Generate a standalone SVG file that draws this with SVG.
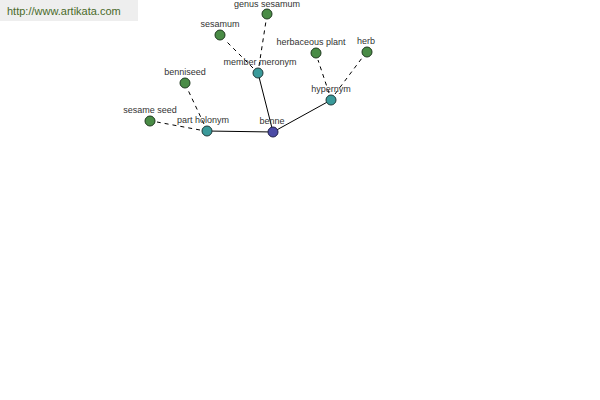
<svg xmlns="http://www.w3.org/2000/svg" width="600" height="400" viewBox="0 0 600 400">
<style>
text{font-family:"Liberation Sans",Arial,sans-serif;font-size:9px;fill:#333;text-anchor:middle}
.leaf{fill:#4a8c46;stroke:#1f3a1f;stroke-width:1}
.hub{fill:#3a9a9a;stroke:#1f3a3a;stroke-width:1}
.root{fill:#4b4ba6;stroke:#1f1f4a;stroke-width:1}
.solid{stroke:#000;stroke-width:1;fill:none}
.dash{stroke:#000;stroke-width:1;fill:none;stroke-dasharray:4,4}
</style>
<rect x="0" y="0" width="138" height="21" fill="#eeeeee"/>
<text x="7" y="15" style="text-anchor:start;font-size:11px;fill:#4a6a2a">http://www.artikata.com</text>
<g id="connectors">
<line class="solid" x1="273" y1="132" x2="207" y2="131"/>
<line class="solid" x1="273" y1="132" x2="258" y2="73"/>
<line class="solid" x1="273" y1="132" x2="331" y2="100"/>
<line class="dash" x1="200" y1="130" x2="157" y2="122"/>
<line class="dash" x1="204" y1="124" x2="188" y2="90"/>
<line class="dash" x1="253" y1="68" x2="225" y2="40"/>
<line class="dash" x1="259" y1="66" x2="266" y2="21"/>
<line class="dash" x1="329" y1="93" x2="318" y2="60"/>
<line class="dash" x1="335" y1="94" x2="362" y2="58"/>
</g>
<g id="sesame-seed"><text x="150" y="113">sesame seed</text><circle class="leaf" cx="150" cy="121" r="5"/></g>
<g id="benniseed"><text x="185" y="75">benniseed</text><circle class="leaf" cx="185" cy="83" r="5"/></g>
<g id="sesamum"><text x="220" y="27">sesamum</text><circle class="leaf" cx="220" cy="35" r="5"/></g>
<g id="genus-sesamum"><text x="267" y="7">genus sesamum</text><circle class="leaf" cx="267" cy="14" r="5"/></g>
<g id="herbaceous-plant"><text x="311" y="45">herbaceous plant</text><circle class="leaf" cx="316" cy="53" r="5"/></g>
<g id="herb"><text x="366" y="44">herb</text><circle class="leaf" cx="367" cy="52" r="5"/></g>
<g id="part-holonym"><text x="203" y="123">part holonym</text><circle class="hub" cx="207" cy="131" r="5"/></g>
<g id="member-meronym"><text x="260" y="65">member meronym</text><circle class="hub" cx="258" cy="73" r="5"/></g>
<g id="hypernym"><text x="331" y="92">hypernym</text><circle class="hub" cx="331" cy="100" r="5"/></g>
<g id="benne"><text x="272" y="124">benne</text><circle class="root" cx="273" cy="132" r="5"/></g>
</svg>
